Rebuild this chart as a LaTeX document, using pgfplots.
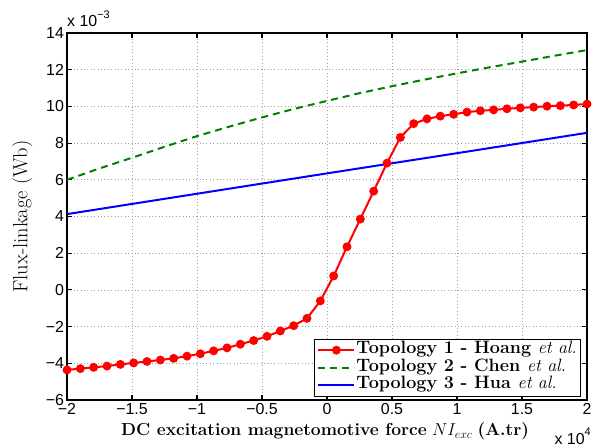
\documentclass[border=0pt]{standalone}
\usepackage{fontspec}
\usepackage{pgfplots}
\pgfplotsset{compat=1.18}
\newfontfamily\arial{Liberation Sans}
\definecolor{mred}{rgb}{1,0,0}
\definecolor{mgreen}{rgb}{0,0.5,0}
\definecolor{mblue}{rgb}{0,0,1}
\newcommand{\sups}[1]{\raisebox{0.55em}{\fontsize{11}{11}\selectfont #1}}
\begin{document}
\begin{tikzpicture}
\useasboundingbox (-67bp,-48bp) rectangle (541bp,400bp);
\begin{axis}[
  at={(0,0)}, anchor=south west,
  width=520bp, height=367bp, scale only axis,
  xmin=-2, xmax=2, ymin=-6, ymax=14,
  xtick={-2,-1.5,-1,-0.5,0,0.5,1,1.5,2},
  xticklabels={−2,−1.5,−1,−0.5,0,0.5,1,1.5,2},
  ytick={-6,-4,-2,0,2,4,6,8,10,12,14},
  yticklabels={−6,−4,−2,0,2,4,6,8,10,12,14},
  tick label style={font=\arial\fontsize{16}{16}\selectfont, text=black},
  yticklabel style={xshift=0.5bp},
  tick align=inside, major tick length=5bp,
  tick style={line width=1.1bp, black},
  axis line style={line width=1.3bp, black},
  grid=major,
  major grid style={line width=0.6bp, gray!75, dash pattern=on 0.8bp off 2.6bp},
  xlabel={\textbf{DC excitation magnetomotive force} $NI_{exc}$ \textbf{(A.tr)}},
  xlabel style={font=\fontsize{17.5}{17.5}\selectfont, at={(0.5,0)}, anchor=north, xshift=-2bp, yshift=-19bp},
  ylabel={Flux-linkage (Wb)},
  ylabel style={font=\fontsize{20.5}{20.5}\selectfont, at={(0,0.5)}, anchor=south, yshift=31bp},
  legend style={at={(0.989,0.01)}, anchor=south east, draw=black, line width=0.8bp,
    font=\fontsize{18}{18}\selectfont\bfseries, row sep=0bp, inner xsep=3bp, inner ysep=2bp,
    nodes={inner sep=1bp, text height=11.5bp, text depth=4bp}},
  legend cell align=left,
  legend image code/.code={\draw[mark repeat=2,mark phase=2] plot coordinates {(0bp,0bp) (18bp,0bp) (36bp,0bp)};},
]
\addplot[color=mred, line width=2bp, mark=*, mark size=3.4bp, mark options={solid, fill=mred}] coordinates {
(-2,-4.36) (-1.8974,-4.29) (-1.7949,-4.22) (-1.6923,-4.15) (-1.5897,-4.06)
(-1.4872,-3.98) (-1.3846,-3.90) (-1.2821,-3.82) (-1.1795,-3.73) (-1.0769,-3.61)
(-0.9744,-3.48) (-0.8718,-3.32) (-0.7692,-3.16) (-0.6667,-2.96) (-0.5641,-2.76)
(-0.4615,-2.53) (-0.359,-2.24) (-0.2564,-1.95) (-0.1538,-1.55) (-0.0513,-0.60)
(0.0513,0.76) (0.1538,2.35) (0.2564,3.86) (0.359,5.38) (0.4615,6.91)
(0.5641,8.31) (0.6667,9.06) (0.7692,9.32) (0.8718,9.47) (0.9744,9.57)
(1.0769,9.69) (1.1795,9.76) (1.2821,9.81) (1.3846,9.87) (1.4872,9.92)
(1.5897,9.96) (1.6923,10.01) (1.7949,10.04) (1.8974,10.08) (2,10.13)
};
\addlegendentry{Topology 1 - Hoang \mdseries\itshape et al.}
\addplot[color=mgreen, line width=2bp, dash pattern=on 7bp off 5bp] coordinates {
(-2,6.0) (-1.75,6.62) (-1.5,7.2) (-1.25,7.8) (-1,8.38) (-0.75,8.9) (-0.5,9.4)
(-0.25,9.87) (0,10.3) (0.25,10.72) (0.5,11.1) (0.75,11.46) (1,11.8) (1.25,12.13)
(1.5,12.44) (1.75,12.76) (2,13.07)
};
\addlegendentry{Topology 2 - Chen \mdseries\itshape et al.}
\addplot[color=mblue, line width=2bp] coordinates {
(-2,4.13) (-1,5.24) (0,6.35) (1,7.45) (2,8.56)
};
\addlegendentry{Topology 3 - Hua \mdseries\itshape et al.}
\end{axis}
\node[anchor=base west, font=\arial\fontsize{16}{16}\selectfont, inner sep=0pt] at (0bp,373bp) {x 10\sups{−3}};
\node[anchor=base east, font=\arial\fontsize{16}{16}\selectfont, inner sep=0pt] at (524bp,-44bp) {x 10\sups{4}};
\end{tikzpicture}
\end{document}
